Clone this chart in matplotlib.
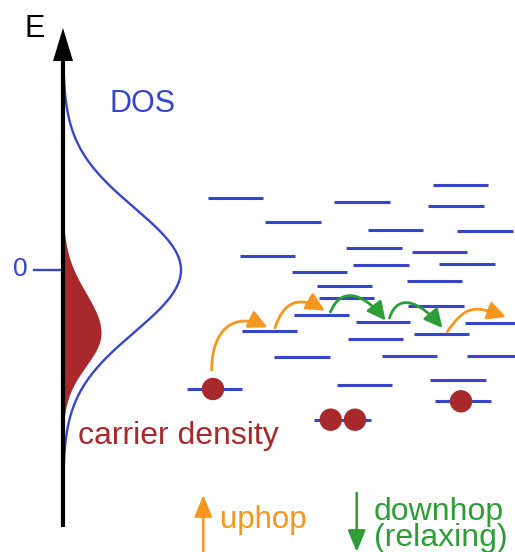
import numpy as np
import matplotlib
matplotlib.use("Agg")
import matplotlib.pyplot as plt
from matplotlib.patches import FancyArrowPatch, Circle
from matplotlib.path import Path

# ---------------- data (pixel-like coordinates, y grows downward) ----------------
# localized states: left x, right x, energy level (y)
level_x0 = [207.7, 334.3, 433.3, 428.3, 265.0, 367.7, 457.3, 346.0, 411.7, 240.0,
            353.3, 439.3, 291.7, 406.7, 316.7, 318.7, 408.3, 294.0, 355.7, 465.0,
            242.0, 414.0, 347.7, 274.3, 381.7, 467.3, 336.7, 430.0, 186.7, 435.0,
            314.3]
level_x1 = [263.3, 390.0, 488.3, 484.0, 320.7, 422.7, 512.7, 401.7, 467.3, 295.0,
            408.7, 495.0, 346.7, 462.3, 371.7, 374.3, 464.0, 349.0, 410.0, 515.0,
            296.7, 469.0, 403.3, 330.0, 436.7, 515.0, 391.7, 485.7, 242.3, 490.7,
            370.7]
level_y = [197.7, 201.7, 185.0, 206.0, 221.7, 229.7, 230.7, 248.0, 252.3, 255.7,
           264.7, 264.0, 271.7, 280.7, 285.7, 297.7, 306.0, 315.0, 322.3, 323.0,
           331.3, 334.3, 339.0, 357.3, 355.7, 356.3, 385.3, 380.3, 389.0, 401.3,
           419.7]

# carriers sitting on states
carrier_x = [213.0, 461.0, 330.7, 355.0]
carrier_y = [389.0, 401.3, 419.7, 419.7]

# hops: start (x, y), end (x, y), kind, departure / arrival angles (deg)
hop_x0 = [211.7, 275.0, 330.5, 389.5, 447.3]
hop_y0 = [370.0, 328.0, 312.0, 318.0, 331.7]
hop_x1 = [267.3, 324.8, 385.5, 442.5, 506.0]
hop_y1 = [327.3, 310.5, 320.5, 328.0, 317.0]
hop_kind = ["up", "up", "down", "down", "up"]
hop_dep = [90, 72, 68, 72, 55]
hop_arr = [-25, -30, -52, -50, -20]

# Gaussian DOS and carrier-density profile parameters
dos_center, dos_sigma, dos_amp = 270.0, 62.0, 118.0
cd_center, cd_sigma_up, cd_sigma_down, cd_amp = 333.0, 40.0, 33.0, 38.0

# ---------------- styling ----------------
BLUE = "#3545cc"
RED = "#a8292b"
ORANGE = "#f5961e"
GREEN = "#2e9d38"
FONT = "Liberation Sans"

fig = plt.figure(figsize=(5.15, 5.52), dpi=100)
ax = fig.add_axes([0, 0, 1, 1])
ax.set_xlim(0, 515)
ax.set_ylim(552, 0)
ax.axis("off")

axis_x = 63.0

# carrier density (filled)
yy = np.linspace(200, 445, 400)
sig = np.where(yy < cd_center, cd_sigma_up, cd_sigma_down)
cd = axis_x + cd_amp * np.exp(-(yy - cd_center) ** 2 / (2 * sig ** 2))
ax.fill_betweenx(yy, axis_x, cd, color=RED, lw=0, zorder=2)

# DOS
ye = np.linspace(66, 472, 500)
dos = axis_x + dos_amp * np.exp(-(ye - dos_center) ** 2 / (2 * dos_sigma ** 2))
ax.plot(dos, ye, color=BLUE, lw=1.7, zorder=3, solid_capstyle="butt")

# energy axis
ax.plot([axis_x, axis_x], [527, 55], color="black", lw=3.0, zorder=4, solid_capstyle="butt")
ax.fill([axis_x, axis_x - 10, axis_x + 10], [28, 61, 61], color="black", lw=0, zorder=4)
ax.text(35, 29, "E", fontsize=22, family=FONT, ha="center", va="center", color="black")

# zero tick
ax.plot([34, axis_x - 1], [270, 270], color=BLUE, lw=1.7, zorder=3)
ax.text(20, 269, "0", fontsize=19, family=FONT, ha="center", va="center", color=BLUE)

ax.text(143, 104, "DOS", fontsize=22, family=FONT, ha="center", va="center", color=BLUE)
ax.text(178.5, 436, "carrier density", fontsize=23, family=FONT, ha="center",
        va="center", color=RED)

# levels
for x0, x1, y in zip(level_x0, level_x1, level_y):
    ax.plot([x0, x1], [y, y], color=BLUE, lw=2.2, solid_capstyle="butt", zorder=3)

# carriers
for cx, cy in zip(carrier_x, carrier_y):
    ax.add_patch(Circle((cx, cy), 11.2, color=RED, lw=0, zorder=5))

# hops as cubic Bezier curves with given departure / arrival directions
for x0, y0, x1, y1, k, a0, a1 in zip(hop_x0, hop_y0, hop_x1, hop_y1, hop_kind,
                                     hop_dep, hop_arr):
    col = ORANGE if k == "up" else GREEN
    L = 0.55 * np.hypot(x1 - x0, y1 - y0)
    d0 = np.array([np.cos(np.radians(a0)), -np.sin(np.radians(a0))])
    d1 = np.array([np.cos(np.radians(a1)), -np.sin(np.radians(a1))])
    p0 = np.array([x0, y0]); p3 = np.array([x1, y1])
    p1 = p0 + L * d0
    p2 = p3 - L * d1
    path = Path([p0, p1, p2, p3], [Path.MOVETO, Path.CURVE4, Path.CURVE4, Path.CURVE4])
    arr = FancyArrowPatch(path=path,
                          arrowstyle="-|>,head_length=1.0,head_width=0.5",
                          mutation_scale=11, lw=2.0, color=col, zorder=6)
    ax.add_patch(arr)

# legend arrows
ax.add_patch(FancyArrowPatch((203.3, 553), (203.3, 495),
                             arrowstyle="-|>,head_length=1.1,head_width=0.45",
                             mutation_scale=12, lw=1.8, color=ORANGE,
                             shrinkA=0, shrinkB=0))
ax.text(220, 520, "uphop", fontsize=22.5, family=FONT, ha="left", va="center", color=ORANGE)

ax.add_patch(FancyArrowPatch((356.7, 493), (356.7, 552),
                             arrowstyle="-|>,head_length=1.1,head_width=0.45",
                             mutation_scale=12, lw=1.8, color=GREEN,
                             shrinkA=0, shrinkB=0))
ax.text(374, 525, "downhop\n(relaxing)", fontsize=23, family=FONT, ha="left",
        va="center", color=GREEN, linespacing=0.8)

fig.savefig("out.png", dpi=100)
